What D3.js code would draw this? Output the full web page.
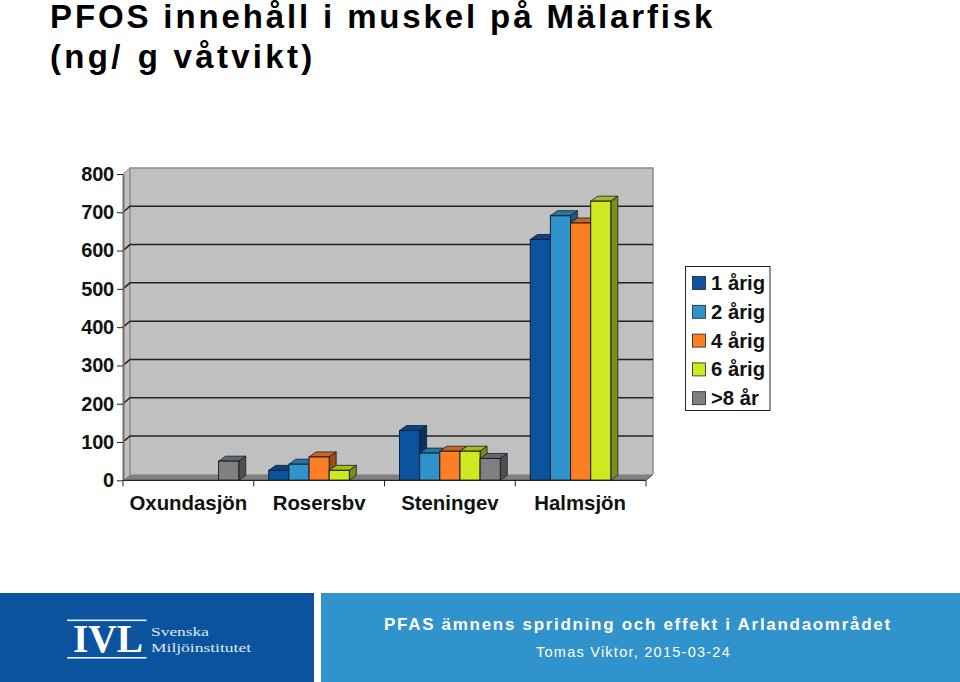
<!DOCTYPE html>
<html><head><meta charset="utf-8">
<script src="https://cdn.jsdelivr.net/npm/d3@7"></script>
<style>html,body{margin:0;padding:0;background:#fff}svg{display:block}text{font-family:"Liberation Sans",Arial,sans-serif}</style>
</head><body><svg id="c" width="960" height="682"></svg>
<script>
const titleLine1 = "PFOS innehåll i muskel på Mälarfisk";
const titleLine2a = "(ng/";
const titleLine2b = "g våtvikt)";
const lakes = ["Oxundasjön", "Rosersbv", "Steningev", "Halmsjön"];
const seriesNames = ["1 årig", "2 årig", "4 årig", "6 årig", ">8 år"];
const seriesColors = ["#0b539f", "#3093cb", "#fd7e23", "#cfe81f", "#808080"];
const age1 = [null, 26, 130, 629];
const age2 = [null, 42, 71, 691];
const age4 = [null, 61, 76, 672];
const age6 = [null, 26, 76, 729];
const age8 = [50, null, 57, null];
const seriesValues = [age1, age2, age4, age6, age8];
const yTicks = [0, 100, 200, 300, 400, 500, 600, 700, 800];
const footerTitle = "PFAS ämnens spridning och effekt i Arlandaområdet";
const footerByline = "Tomas Viktor, 2015-03-24";

const svg = d3.select("#c");
const dx = 7, dy = -6, barDx = 7, barDy = -5;
const y = d3.scaleLinear().domain([0, 800]).range([480.3, 174]);
const x0 = d3.scaleBand().domain(lakes).range([123, 646]).paddingInner(0).paddingOuter(0);
const x1 = d3.scaleBand().domain(seriesNames).range([15, x0.bandwidth() - 15]);

// footer
svg.append("rect").attr("x", 0).attr("y", 593).attr("width", 314).attr("height", 89).attr("fill", "#0b539f");
svg.append("rect").attr("x", 321).attr("y", 593).attr("width", 639).attr("height", 89).attr("fill", "#3093cb");

// title
svg.append("text").attr("x", 50).attr("y", 27.5)
  .attr("font-size", 33).attr("font-weight", 700).attr("letter-spacing", 2.87).attr("fill", "#000")
  .text(titleLine1);
const t2 = svg.append("text").attr("x", 50).attr("y", 67.5)
  .attr("font-size", 33).attr("font-weight", 700).attr("letter-spacing", 3.3).attr("fill", "#000");
t2.append("tspan").text(titleLine2a);
t2.append("tspan").attr("dx", 14).text(titleLine2b);

// walls
const x = x0.range();
const g = svg.append("g");
g.append("path").attr("d", `M${x[0]},${y(0)}L${x[0]+dx},${y(0)+dy}V${y(800)+dy}L${x[0]},${y(800)}Z`).attr("fill", "#c0c0c0");
g.append("rect").attr("x", x[0]+dx).attr("y", y(800)+dy).attr("width", x[1]-x[0]).attr("height", y(0)-y(800)).attr("fill", "#c0c0c0");
g.append("path").attr("d", `M${x[0]},${y(0)}L${x[0]+dx},${y(0)+dy}H${x[1]+dx}L${x[1]},${y(0)}Z`).attr("fill", "#808080");
g.append("path").attr("d", `M${x[0]+dx},${y(0)+dy}V${y(800)+dy}H${x[1]+dx}V${y(0)+dy}`).attr("fill", "none").attr("stroke", "#8c8c8c").attr("stroke-width", 1.5);
g.append("path").attr("d", `M${x[0]},${y(800)}L${x[0]+dx},${y(800)+dy}`).attr("fill", "none").attr("stroke", "#8c8c8c").attr("stroke-width", 1);

// grid
g.selectAll("path.grid").data(yTicks.filter(d => d > 0 && d < 800)).join("path").attr("class", "grid")
  .attr("d", d => `M${x[0]},${y(d)}L${x[0]+dx},${y(d)+dy}H${x[1]+dx}`)
  .attr("fill", "none").attr("stroke", "#222").attr("stroke-width", 1.5);

// y axis
const yAxis = d3.axisLeft(y).tickValues(yTicks).tickSize(6).tickSizeOuter(0).tickFormat(d3.format("d"));
const ya = svg.append("g").attr("transform", `translate(${x[0]},0)`).call(yAxis);
ya.select(".domain").attr("stroke", "#707070").attr("stroke-width", 2);
ya.selectAll(".tick line").attr("stroke", "#222").attr("stroke-width", 1);
ya.selectAll(".tick text").attr("x", -9).attr("font-size", 20).attr("font-weight", 700)
  .attr("letter-spacing", -0.2).attr("fill", "#111").style("font-family", '"Liberation Sans",Arial,sans-serif');

// bars
const bars = [];
seriesNames.forEach((s, si) => lakes.forEach((l, li) => {
  const v = seriesValues[si][li];
  if (v != null) bars.push({ s, si, l, li, v });
}));
bars.sort((a, b) => a.li - b.li || a.si - b.si);
const bar = svg.append("g").selectAll("g").data(bars).join("g");
const bx = d => x0(d.l) + x1(d.s);
const bw = x1.bandwidth();
bar.append("path").attr("d", d => `M${bx(d)},${y(d.v)}l${barDx},${barDy}h${bw}l${-barDx},${-barDy}Z`)
  .attr("fill", d => d3.color(seriesColors[d.si]).darker(0.6)).attr("stroke", "#10202c").attr("stroke-width", 0.8);
bar.append("path").attr("d", d => `M${bx(d)+bw},${y(d.v)}l${barDx},${barDy}V${y(0)+barDy}l${-barDx},${-barDy}Z`)
  .attr("fill", d => d3.color(seriesColors[d.si]).darker(1.4)).attr("stroke", "#10202c").attr("stroke-width", 0.8);
bar.append("rect").attr("x", bx).attr("y", d => y(d.v)).attr("width", bw).attr("height", d => y(0) - y(d.v))
  .attr("fill", d => seriesColors[d.si]).attr("stroke", "#10202c").attr("stroke-width", 1);

// x axis
const xTickVals = lakes.map(l => x0(l)).concat(x[1]);
const xa = svg.append("g");
xa.append("line").attr("x1", x[0]).attr("x2", x[1]).attr("y1", y(0)).attr("y2", y(0)).attr("stroke", "#222").attr("stroke-width", 1.2);
xa.selectAll("line.tk").data(xTickVals).join("line").attr("class", "tk")
  .attr("x1", d => d).attr("x2", d => d).attr("y1", y(0)).attr("y2", y(0) + 6).attr("stroke", "#222");
xa.append("path").attr("d", `M${x[1]},${y(0)}L${x[1]+dx},${y(0)+dy}`).attr("stroke", "#444").attr("fill", "none");
const labelDx = [0, 0, 0, -0.5];
xa.selectAll("text").data(lakes).join("text")
  .attr("x", (d, i) => x0(d) + x0.bandwidth() / 2 + labelDx[i]).attr("y", 510)
  .attr("text-anchor", "middle").attr("font-size", 20.4).attr("font-weight", 700).attr("fill", "#111").text(d => d);

// legend
svg.append("rect").attr("x", 685.5).attr("y", 266.5).attr("width", 84.5).attr("height", 144)
  .attr("fill", "#fff").attr("stroke", "#222").attr("stroke-width", 1);
const ly = d3.scalePoint().domain(seriesNames).range([283, 398.2]);
const lg = svg.append("g").selectAll("g").data(seriesNames).join("g");
lg.append("rect").attr("x", 692.5).attr("y", d => ly(d) - 6.5).attr("width", 13).attr("height", 13)
  .attr("fill", (d, i) => seriesColors[i]).attr("stroke", "#222").attr("stroke-width", 0.8);
lg.append("text").attr("x", 711).attr("y", d => ly(d) + 7).attr("font-size", 20.3).attr("font-weight", 700)
  .attr("fill", "#111").text(d => d);

// logo
const logo = svg.append("g").attr("fill", "#fff");
logo.append("rect").attr("x", 67).attr("y", 619.5).attr("width", 79.5).attr("height", 1.6).attr("fill", "#e8eef6");
logo.append("rect").attr("x", 67).attr("y", 657).attr("width", 79.5).attr("height", 1.6).attr("fill", "#e8eef6");
logo.append("text").attr("x", 73).attr("y", 652)
  .attr("font-size", 39).attr("font-weight", 700).attr("textLength", 70).attr("lengthAdjust", "spacingAndGlyphs")
  .style("font-family", '"Liberation Serif",serif').text("IVL");
logo.append("text").attr("x", 151).attr("y", 636).attr("font-size", 13.5).attr("textLength", 58).attr("lengthAdjust", "spacingAndGlyphs")
  .style("font-family", '"Liberation Serif",serif').attr("fill", "#dfe8f3").text("Svenska");
logo.append("text").attr("x", 151).attr("y", 652).attr("font-size", 13.5).attr("textLength", 100).attr("lengthAdjust", "spacingAndGlyphs")
  .style("font-family", '"Liberation Serif",serif').attr("fill", "#dfe8f3").text("Miljöinstitutet");

// footer text
svg.append("text").attr("x", 384).attr("y", 630).attr("font-size", 17).attr("font-weight", 700)
  .attr("letter-spacing", 1.7).attr("fill", "#fff").text(footerTitle);
svg.append("text").attr("x", 536).attr("y", 657).attr("font-size", 14.5)
  .attr("letter-spacing", 1.25).attr("fill", "#fff").text(footerByline);
</script></body></html>
